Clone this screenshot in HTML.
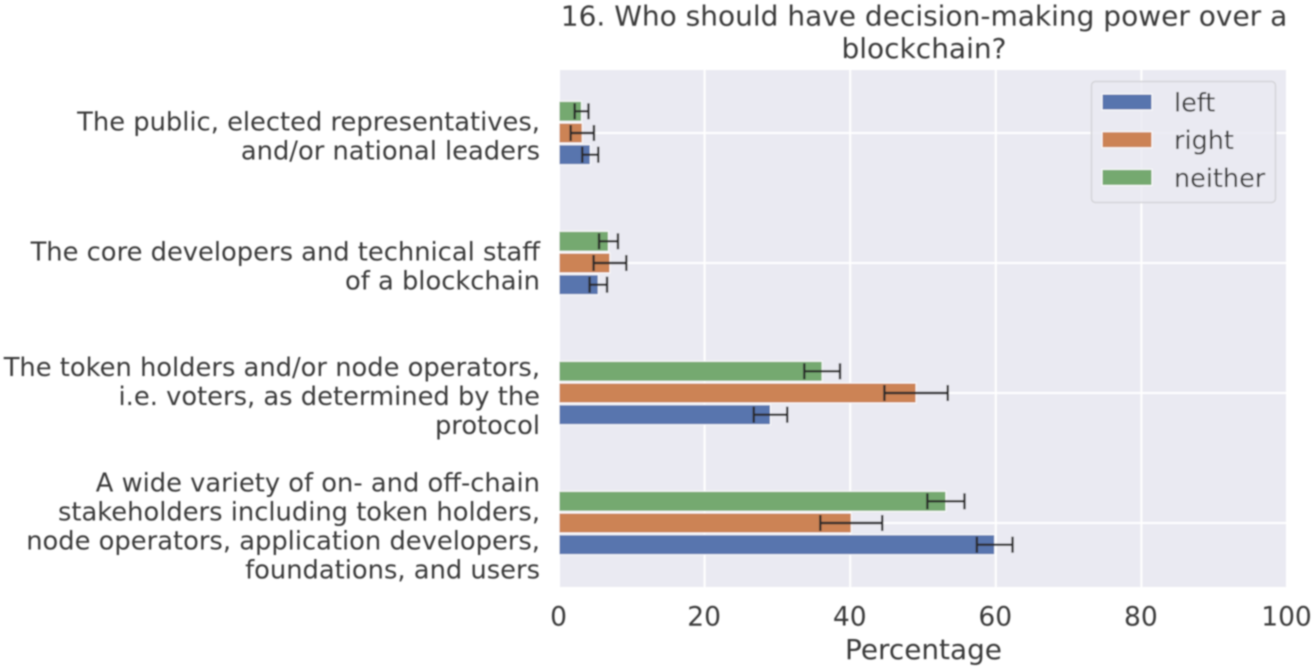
<!DOCTYPE html>
<html>
<head>
<meta charset="utf-8">
<title>Decision-making power chart</title>
<style>
html,body{margin:0;padding:0;background:#fff;width:1315px;height:670px;overflow:hidden}
svg{display:block}
text{font-family:"DejaVu Sans","Liberation Sans",sans-serif;fill:#3a3a3a}
</style>
</head>
<body>
<svg id="chart" width="1315" height="670" viewBox="0 0 1315 670" xmlns="http://www.w3.org/2000/svg">
<defs><filter id="soft" x="-2%" y="-2%" width="104%" height="104%"><feGaussianBlur stdDeviation="0.7"/></filter></defs>
<g id="root" filter="url(#soft)"></g>
</svg>
<script>
const categories = [
  ["The public, elected representatives,", "and/or national leaders"],
  ["The core developers and technical staff", "of a blockchain"],
  ["The token holders and/or node operators,", "i.e. voters, as determined by the", "protocol"],
  ["A wide variety of on- and off-chain", "stakeholders including token holders,", "node operators, application developers,", "foundations, and users"]
];
const seriesNames = ["left", "right", "neither"];
const leftValues = [4.3, 5.4, 29.05, 59.85];
const rightValues = [3.2, 7.0, 49.05, 40.15];
const neitherValues = [3.1, 6.8, 36.15, 53.15];
const leftErrors = [1.1, 1.2, 2.3, 2.45];
const rightErrors = [1.6, 2.25, 4.35, 4.25];
const neitherErrors = [0.95, 1.3, 2.45, 2.55];
const xTicks = [0, 20, 40, 60, 80, 100];
const xDomain = [0, 100];
const titleLines = ["16. Who should have decision-making power over a", "blockchain?"];
const xAxisLabel = "Percentage";

const NS = "http://www.w3.org/2000/svg";
const root = document.getElementById("root");
const plot = {left: 559, right: 1287, top: 70, bottom: 587};
const colors = {left: "#5874ae", right: "#cc8354", neither: "#74a96f"};
const offsets = {left: 21.7, right: 0, neither: -21.7};
const valuesBySeries = {left: leftValues, right: rightValues, neither: neitherValues};
const errorsBySeries = {left: leftErrors, right: rightErrors, neither: neitherErrors};

function xScale(v) {
  return plot.left + (v - xDomain[0]) / (xDomain[1] - xDomain[0]) * (plot.right - plot.left);
}
function yBand(i) {
  return 133 + i * 130;
}
function make(tag, attrs, parent) {
  const el = document.createElementNS(NS, tag);
  for (const k in attrs) el.setAttribute(k, attrs[k]);
  (parent || root).appendChild(el);
  return el;
}

const background = make("rect", {x: plot.left, y: plot.top, width: plot.right - plot.left, height: plot.bottom - plot.top, fill: "#eaeaf2"});



xTicks.forEach(function (t) {
  const grid = make("line", {x1: xScale(t), x2: xScale(t), y1: plot.top, y2: plot.bottom, stroke: "#fff", "stroke-width": 2});
  
  
  const label = make("text", {x: xScale(t) - 0.5, y: 625.5, "text-anchor": "middle", "font-size": 26.5});
  label.textContent = String(t);
  
  
});

categories.forEach(function (lines, i) {
  const grid = make("line", {x1: plot.left, x2: plot.right, y1: yBand(i), y2: yBand(i), stroke: "#fff", "stroke-width": 2});
  
  
  const lineGap = 29;
  const firstY = yBand(i) - (lines.length - 1) * lineGap / 2 + 12;
  lines.forEach(function (line, j) {
    const label = make("text", {x: 540, y: firstY + j * lineGap, "text-anchor": "end", "font-size": 25.75});
    label.textContent = line;
    
    
  });
});

seriesNames.forEach(function (name) {
  categories.forEach(function (_, i) {
    const v = valuesBySeries[name][i];
    const cy = yBand(i) + offsets[name];
    const bar = make("rect", {
      x: xScale(0), y: cy - 10, width: xScale(v) - xScale(0), height: 20,
      fill: colors[name], stroke: "#fff", "stroke-width": 1
    });
    
    
  });
});

seriesNames.forEach(function (name) {
  categories.forEach(function (_, i) {
    const v = valuesBySeries[name][i];
    const e = errorsBySeries[name][i];
    const cy = yBand(i) + offsets[name];
    const x1 = xScale(v - e);
    const x2 = xScale(v + e);
    const g = make("g", {stroke: "#2a2a2a", "stroke-width": 2.4});
    
    
    make("line", {x1: x1, x2: x2, y1: cy, y2: cy}, g);
    make("line", {x1: x1, x2: x1, y1: cy - 8, y2: cy + 8}, g);
    make("line", {x1: x2, x2: x2, y1: cy - 8, y2: cy + 8}, g);
  });
});

titleLines.forEach(function (line, i) {
  const t = make("text", {x: 924, y: 25.5 + i * 32.5, "text-anchor": "middle", "font-size": 28});
  t.textContent = line;
  
  
});

const xTitle = make("text", {x: 923.5, y: 659, "text-anchor": "middle", "font-size": 27.9});
xTitle.textContent = xAxisLabel;



const legend = make("g", {});


make("rect", {x: 1091.5, y: 81.5, width: 184, height: 121, rx: 4, fill: "#eaeaf2", "fill-opacity": 0.85, stroke: "#d4d4d8", "stroke-width": 1.5}, legend);
seriesNames.forEach(function (name, i) {
  const y = 102 + i * 37.7;
  const swatch = make("rect", {x: 1102, y: y - 8, width: 50, height: 16, fill: colors[name], stroke: "#fff", "stroke-width": 1}, legend);
  
  
  const label = make("text", {x: 1174, y: y + 9.5, "font-size": 25.5}, legend);
  label.textContent = name;
  
  
});
</script>
</body>
</html>
